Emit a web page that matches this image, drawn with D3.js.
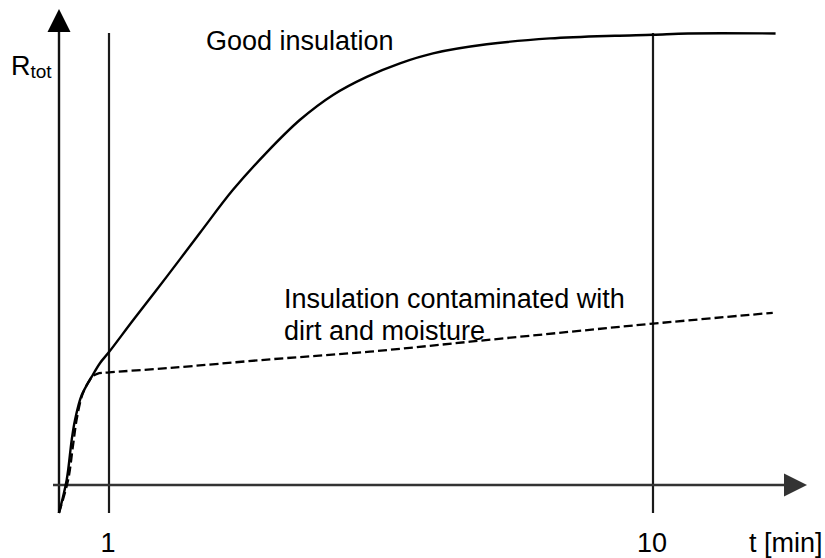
<!DOCTYPE html>
<html>
<head>
<meta charset="utf-8">
<script src="https://cdn.jsdelivr.net/npm/d3@7"></script>
<style>
  html, body { margin: 0; padding: 0; background: #fff; }
  svg { display: block; }
  text { font-family: "Liberation Sans", Arial, sans-serif; fill: #000; }
</style>
</head>
<body>
<svg id="chart" width="825" height="558"></svg>
<script>
// ---- data (t in minutes, R in relative units; 100 = final value of good insulation)
const goodT = [0.809, 0.836, 0.854, 0.866, 0.891, 0.929, 0.963, 1.0, 1.108, 1.277, 1.470, 1.690, 1.950, 2.245, 2.581, 2.977, 3.426, 3.941, 4.947, 6.467, 8.514, 10.0, 11.6, 16.8];
const goodR = [-6.2, 1.1, 10.0, 14.4, 19.9, 23.9, 27.0, 29.4, 36.5, 46.1, 55.8, 65.3, 73.6, 80.8, 86.3, 90.3, 93.3, 95.5, 97.5, 98.8, 99.4, 99.6, 99.9, 99.9];
const dirtyT = [0.809, 0.841, 0.859, 0.873, 0.896, 0.931, 0.951, 1.0, 1.295, 1.977, 3.018, 4.609, 7.037, 10.0, 16.6];
const dirtyR = [-6.2, 1.1, 8.9, 14.8, 20.4, 23.9, 24.6, 24.9, 25.9, 27.8, 29.5, 31.7, 33.9, 35.7, 38.1];
const tickValues = [1, 10];
const tickLabels = ["1", "10"];
const goodLabel = "Good insulation";
const dirtyLabel = ["Insulation contaminated with", "dirt and moisture"];
const xTitle = "t [min]";
const yTitleMain = "R";
const yTitleSub = "tot";

// ---- layout
const W = 825, H = 558;
const svg = d3.select("#chart");
const x = d3.scaleLog().domain([1, 10]).range([109, 653]);
const y = d3.scaleLinear().domain([0, 100]).range([485, 33]);

const axisColor = "#333";
const yAxisX = 59, yAxisBottom = 513, yAxisTip = 9;
const xAxisLeft = 53, xAxisTip = 807;
const fs = 27;

// vertical reference lines at t = 1 and t = 10
svg.selectAll("line.ref").data(tickValues).enter().append("line")
  .attr("class", "ref")
  .attr("x1", d => x(d)).attr("x2", d => x(d))
  .attr("y1", y(100)).attr("y2", yAxisBottom)
  .attr("stroke", "#1a1a1a").attr("stroke-width", 2.2);

// y axis
svg.append("line")
  .attr("x1", yAxisX).attr("x2", yAxisX)
  .attr("y1", yAxisBottom).attr("y2", yAxisTip + 20)
  .attr("stroke", "#111").attr("stroke-width", 2.4);
svg.append("path")
  .attr("d", `M${yAxisX},${yAxisTip} L${yAxisX - 11.5},${yAxisTip + 23} L${yAxisX + 11.5},${yAxisTip + 23} Z`)
  .attr("fill", "#000");

// x axis
svg.append("line")
  .attr("x1", xAxisLeft).attr("x2", xAxisTip - 20)
  .attr("y1", y(0)).attr("y2", y(0))
  .attr("stroke", axisColor).attr("stroke-width", 2.4);
svg.append("path")
  .attr("d", `M${xAxisTip},${y(0)} L${xAxisTip - 23},${y(0) - 11.5} L${xAxisTip - 23},${y(0) + 11.5} Z`)
  .attr("fill", axisColor);

// curves
const line = d3.line()
  .x(d => x(d[0])).y(d => y(d[1]))
  .curve(d3.curveCatmullRom.alpha(0.5));

svg.append("path")
  .datum(goodT.map((t, i) => [t, goodR[i]]))
  .attr("d", line)
  .attr("fill", "none").attr("stroke", "#000").attr("stroke-width", 2.4)
  .attr("stroke-linejoin", "round");

svg.append("path")
  .datum(dirtyT.map((t, i) => [t, dirtyR[i]]))
  .attr("d", line)
  .attr("fill", "none").attr("stroke", "#000").attr("stroke-width", 2.3)
  .attr("stroke-dasharray", "9,4");

// tick labels
svg.selectAll("text.tick").data(tickValues).enter().append("text")
  .attr("class", "tick")
  .attr("x", d => x(d) - 1).attr("y", 552)
  .attr("text-anchor", "middle")
  .attr("font-size", fs)
  .text((d, i) => tickLabels[i]);

// axis titles
svg.append("text").attr("x", 749).attr("y", 552)
  .attr("font-size", fs).text(xTitle);

const yt = svg.append("text").attr("x", 11).attr("y", 75).attr("font-size", fs);
yt.append("tspan").text(yTitleMain);
yt.append("tspan").attr("font-size", 19).attr("dy", 3).text(yTitleSub);

// curve labels
svg.append("text").attr("x", 206).attr("y", 50)
  .attr("font-size", fs).text(goodLabel);
svg.selectAll("text.dl").data(dirtyLabel).enter().append("text")
  .attr("class", "dl")
  .attr("x", 284).attr("y", (d, i) => 308 + i * 32)
  .attr("font-size", fs).text(d => d);
</script>
</body>
</html>
